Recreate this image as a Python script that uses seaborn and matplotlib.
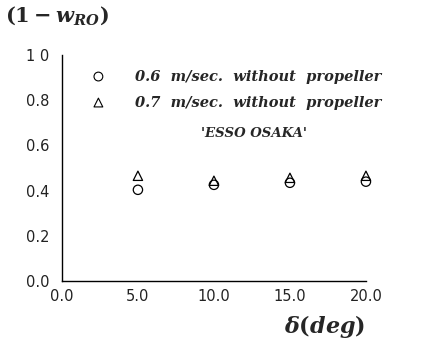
import matplotlib
matplotlib.use("Agg")
import matplotlib.pyplot as plt
import seaborn as sns
import pandas as pd

delta = [5.0, 10.0, 15.0, 20.0]
w06 = [0.404, 0.426, 0.435, 0.44]
w07 = [0.466, 0.444, 0.457, 0.466]
series_labels = ["0.6  m/sec.  without  propeller", "0.7  m/sec.  without  propeller"]
xticks = [0.0, 5.0, 10.0, 15.0, 20.0]
yticks = [0.0, 0.2, 0.4, 0.6, 0.8, 1.0]
ytick_labels = ["0.0", "0.2", "0.4", "0.6", "0.8", "1 0"]

sns.set_style("white")
plt.rcParams['font.family'] = ['DejaVu Sans']
plt.rcParams['mathtext.fontset'] = 'custom'
plt.rcParams['mathtext.it'] = 'DejaVu Serif:italic:bold'
plt.rcParams['mathtext.rm'] = 'DejaVu Serif:bold'
plt.rcParams['mathtext.bf'] = 'DejaVu Serif:bold'

df = pd.DataFrame({
    "delta": delta * 2,
    "w": w06 + w07,
    "series": [series_labels[0]] * 4 + [series_labels[1]] * 4,
})

fig = plt.figure(figsize=(4.27, 3.42), dpi=100)
ax = fig.add_axes([0.145, 0.178, 0.712, 0.661])
sns.scatterplot(data=df, x="delta", y="w", style="series", markers=["o", "^"],
                s=45, facecolor="none", edgecolor="black", linewidth=0.9,
                ax=ax, legend=False, clip_on=False)

ax.set_xlim(0, 20)
ax.set_ylim(0, 1.0)
ax.set_xticks(xticks)
ax.set_xticklabels([f"{v:.1f}" for v in xticks])
ax.set_yticks(yticks)
ax.set_yticklabels(ytick_labels)
ax.tick_params(axis="x", direction="in", length=4, width=0.8, labelsize=10.5, pad=6,
               labelcolor="#222222")
ax.tick_params(axis="y", direction="out", length=5, width=0.8, labelsize=10.5, pad=4,
               labelcolor="#222222")
for sp in ["top", "right"]:
    ax.spines[sp].set_visible(False)
for sp in ["left", "bottom"]:
    ax.spines[sp].set_color("black")
    ax.spines[sp].set_linewidth(1.0)
ax.set_xlabel("")
ax.set_ylabel("")

# legend-like annotations
mk = ["o", "^"]
ys = [0.905, 0.79]
for m, yy, lab in zip(mk, ys, series_labels):
    ax.scatter([2.4], [yy], marker=m, s=40, facecolor="none", edgecolor="black", linewidth=0.8)
    ax.text(4.8, yy, lab, family="DejaVu Serif", style="italic", weight="bold",
            fontsize=10.5, va="center", ha="left")
ax.text(12.6, 0.655, "'ESSO OSAKA'", family="DejaVu Serif", style="italic", weight="bold",
        fontsize=9.5, va="center", ha="center")

fig.text(0.012, 0.955, r"$(1-w_{RO})$", fontsize=15, ha="left", va="center")
fig.text(0.855, 0.045, r"$\delta(deg)$", fontsize=16, ha="right", va="center")

fig.savefig("out.png", dpi=100)
